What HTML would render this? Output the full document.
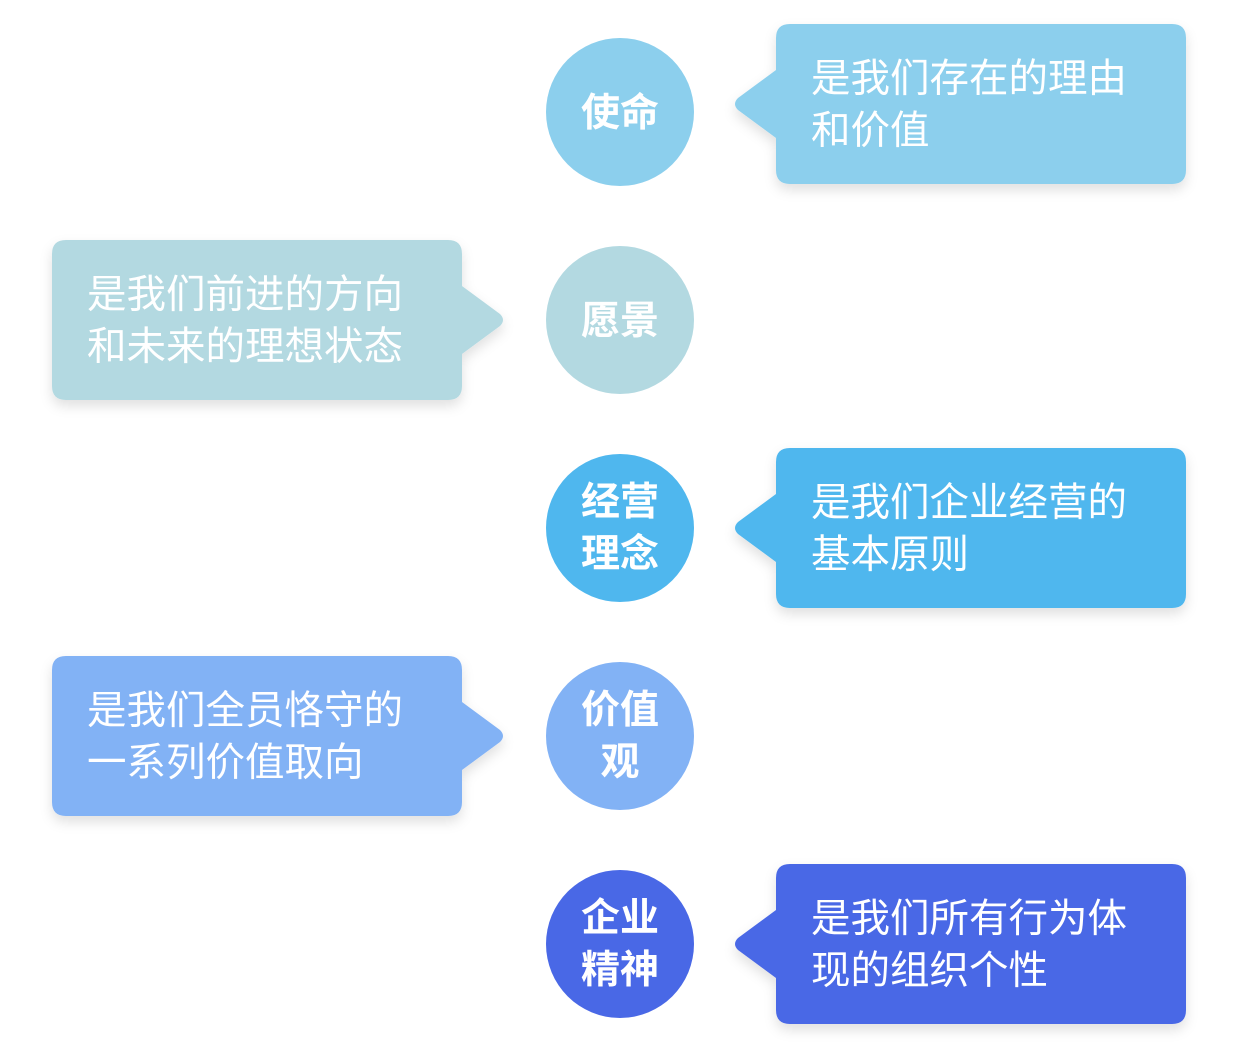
<!DOCTYPE html>
<html><head><meta charset="utf-8"><style>
body{margin:0;width:1240px;height:1060px;background:#fff;overflow:hidden;}
svg{display:block}
.t{font-family:"Liberation Sans","Noto Sans CJK SC",sans-serif;fill:#fff;font-size:39.5px;}
.c{font-family:"Liberation Sans","Noto Sans CJK SC",sans-serif;fill:#fff;font-size:39px;font-weight:bold;text-anchor:middle;}
</style></head><body>
<svg width="1240" height="1060" viewBox="0 0 1240 1060">
<defs><filter id="s" x="-10%" y="-10%" width="120%" height="140%"><feDropShadow dx="0" dy="6" stdDeviation="6" flood-color="#000" flood-opacity="0.12"/></filter></defs>
<circle cx="620" cy="112" r="74" fill="#8ccfed"/>
<text class="c" x="620" y="126">使命</text>
<path filter="url(#s)" fill="#8ccfed" d="M790 24 H1172 Q1186 24 1186 38 V170 Q1186 184 1172 184 H790 Q776 184 776 170 V138 L738 110 Q732 104 738 98 L776 70 V38 Q776 24 790 24Z"/>
<text class="t" x="811" y="92">是我们存在的理由</text>
<text class="t" x="811" y="144">和价值</text>
<circle cx="620" cy="320" r="74" fill="#b3d9e1"/>
<text class="c" x="620" y="334">愿景</text>
<path filter="url(#s)" fill="#b3d9e1" d="M66 240 H448 Q462 240 462 254 V286 L500 314 Q506 320 500 326 L462 354 V386 Q462 400 448 400 H66 Q52 400 52 386 V254 Q52 240 66 240Z"/>
<text class="t" x="87" y="308">是我们前进的方向</text>
<text class="t" x="87" y="360">和未来的理想状态</text>
<circle cx="620" cy="528" r="74" fill="#4fb7ee"/>
<text class="c" x="620" y="515">经营</text>
<text class="c" x="620" y="567">理念</text>
<path filter="url(#s)" fill="#4fb7ee" d="M790 448 H1172 Q1186 448 1186 462 V594 Q1186 608 1172 608 H790 Q776 608 776 594 V562 L738 534 Q732 528 738 522 L776 494 V462 Q776 448 790 448Z"/>
<text class="t" x="811" y="516">是我们企业经营的</text>
<text class="t" x="811" y="568">基本原则</text>
<circle cx="620" cy="736" r="74" fill="#82b2f5"/>
<text class="c" x="620" y="723">价值</text>
<text class="c" x="620" y="775">观</text>
<path filter="url(#s)" fill="#82b2f5" d="M66 656 H448 Q462 656 462 670 V702 L500 730 Q506 736 500 742 L462 770 V802 Q462 816 448 816 H66 Q52 816 52 802 V670 Q52 656 66 656Z"/>
<text class="t" x="87" y="724">是我们全员恪守的</text>
<text class="t" x="87" y="776">一系列价值取向</text>
<circle cx="620" cy="944" r="74" fill="#4968e6"/>
<text class="c" x="620" y="931">企业</text>
<text class="c" x="620" y="983">精神</text>
<path filter="url(#s)" fill="#4968e6" d="M790 864 H1172 Q1186 864 1186 878 V1010 Q1186 1024 1172 1024 H790 Q776 1024 776 1010 V978 L738 950 Q732 944 738 938 L776 910 V878 Q776 864 790 864Z"/>
<text class="t" x="811" y="932">是我们所有行为体</text>
<text class="t" x="811" y="984">现的组织个性</text>
</svg>
</body></html>
